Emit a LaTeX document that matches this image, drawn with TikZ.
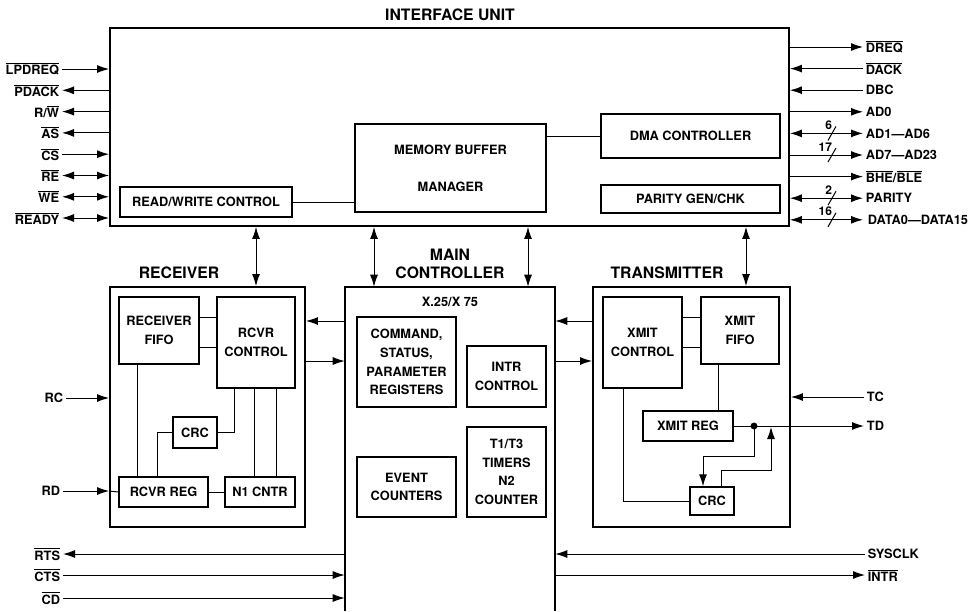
\documentclass[tikz,border=0pt]{standalone}
\usepackage{fontspec}
\setmainfont{TeX Gyre Heros}
\usetikzlibrary{arrows.meta,fit,calc}
\newcommand{\ovl}[1]{$\overline{\mbox{#1}}$}
\tikzset{
  outer/.style={draw, line width=1.4pt, inner sep=0pt},
  blk/.style={draw, line width=1.1pt, inner sep=0pt, align=center, font=\bfseries\fontsize{9.6}{14}\selectfont},
  ttl/.style={font=\bfseries\fontsize{11.8}{13.8}\selectfont, align=center, inner sep=1pt},
  sig/.style={font=\bfseries\fontsize{9.6}{11}\selectfont, inner sep=2pt},
  num/.style={font=\bfseries\fontsize{9}{10}\selectfont, inner sep=0.5pt},
  wire/.style={line width=0.75pt},
  ar/.style={wire, -{Latex[length=9pt,width=6pt]}},
  dar/.style={wire, {Latex[length=9pt,width=6pt]}-{Latex[length=9pt,width=6pt]}},
}
% box from (x1,y1) to (x2,y2) in pixel units
\newcommand{\bx}[6]{\node[blk, minimum width={(#4-#2)*0.75pt}, minimum height={(#5-#3)*0.75pt}] (#1) at ({(#2+#4)/2},{(#3+#5)/2}) {#6};}
\begin{document}
\begin{tikzpicture}[x=0.75pt,y=-0.75pt]
\useasboundingbox (0,0) rectangle (979,611);

% ---------------- Interface unit ----------------
\node[ttl] (iut) at (450,15) {INTERFACE UNIT};
\node[outer, fit={(110,28) (789,226)}] (iu) {};
\bx{rw}{120}{187}{292}{217}{READ/WRITE CONTROL}
\bx{mbm}{355}{124}{546}{212}{MEMORY BUFFER\\[14pt]MANAGER}
\bx{dma}{601}{114}{780}{158}{DMA CONTROLLER}
\bx{par}{601}{185}{780}{213}{PARITY GEN/CHK}
\draw[wire] (rw.east) -- (rw.east -| mbm.west);
\draw[wire] (dma.west) -- (dma.west -| mbm.east);

% left signals
\node[sig, anchor=east] (lpdreq) at (62,69) {\ovl{LPDREQ}};
\node[sig, anchor=east] (pdack) at (62,90.3) {\ovl{PDACK}};
\node[sig, anchor=east] (rwl) at (62,111.6) {R/\ovl{W}};
\node[sig, anchor=east] (as) at (62,132.9) {\ovl{AS}};
\node[sig, anchor=east] (cs) at (62,154.2) {\ovl{CS}};
\node[sig, anchor=east] (re) at (62,175.5) {\ovl{RE}};
\node[sig, anchor=east] (we) at (62,196.8) {\ovl{WE}};
\node[sig, anchor=east] (ready) at (62,218) {\ovl{READY}};
\draw[ar] (lpdreq.east) -- (lpdreq.east -| iu.west);
\draw[ar] (pdack.east -| iu.west) -- (pdack.east);
\draw[ar] (rwl.east -| iu.west) -- (rwl.east);
\draw[ar] (as.east -| iu.west) -- (as.east);
\draw[ar] (cs.east) -- (cs.east -| iu.west);
\draw[dar] (re.east) -- (re.east -| iu.west);
\draw[dar] (we.east) -- (we.east -| iu.west);
\draw[dar] (ready.east) -- (ready.east -| iu.west);

% right signals
\node[sig, anchor=west] (dreq) at (863,47) {\ovl{DREQ}};
\node[sig, anchor=west] (dack) at (863,68.6) {\ovl{DACK}};
\node[sig, anchor=west] (dbc) at (863,90.2) {DBC};
\node[sig, anchor=west] (ad0) at (863,111.8) {AD0};
\node[sig, anchor=west] (ad1) at (863,133.4) {AD1—AD6};
\node[sig, anchor=west] (ad7) at (863,155) {AD7—AD23};
\node[sig, anchor=west] (bhe) at (863,176.6) {\ovl{BHE}/\ovl{BLE}};
\node[sig, anchor=west] (parity) at (863,198.2) {PARITY};
\node[sig, anchor=west] (data) at (865,219.8) {DATA0—DATA15};
\draw[ar] (dreq.west -| iu.east) -- (dreq.west);
\draw[ar] (dack.west) -- (dack.west -| iu.east);
\draw[ar] (dbc.west) -- (dbc.west -| iu.east);
\draw[ar] (ad0.west -| iu.east) -- (ad0.west);
\draw[dar] (ad1.west -| iu.east) -- (ad1.west);
\draw[ar] (ad7.west -| iu.east) -- (ad7.west);
\draw[ar] (bhe.west -| iu.east) -- (bhe.west);
\draw[dar] (parity.west -| iu.east) -- (parity.west);
\draw[dar] (data.west -| iu.east) -- (data.west -| ad1.west);
% bus slashes
\coordinate (sx) at (832,0);
\foreach \s/\n in {ad1/6, ad7/17, parity/2, data/16}{
  \draw[wire] ($(sx |- \s.west)+(-4,7)$) -- ($(sx |- \s.west)+(4,-7)$);
  \node[num, anchor=south east] at ($(sx |- \s.west)+(1,-3)$) {\n};
}

% ---------------- Receiver ----------------
\node[ttl] (rxt) at (179,273) {RECEIVER};
\node[outer, fit={(110,287) (305,527)}] (rx) {};
\bx{rfifo}{119}{297}{199}{364}{RECEIVER\\FIFO}
\bx{rctl}{217}{297}{295}{388}{RCVR\\CONTROL}
\bx{rcrc}{173}{417}{217}{448}{CRC}
\bx{rreg}{119}{477}{208}{507}{RCVR REG}
\bx{n1}{225}{477}{295}{507}{N1 CNTR}
\draw[wire] (rfifo.east |- 0,317) -- (rctl.west |- 0,317);
\draw[wire] (rfifo.east |- 0,347) -- (rctl.west |- 0,347);
\draw[wire] (rfifo.south -| 137,0) -- (rreg.north -| 137,0);
\draw[wire] (rcrc.west) -| (rreg.north -| 157,0);
\draw[wire] (rcrc.east) -| (rctl.south -| 234,0);
\draw[wire] (rctl.south -| 254,0) -- (n1.north -| 254,0);
\draw[wire] (rctl.south -| 276,0) -- (n1.north -| 276,0);
\draw[wire] (rreg.east) -- (n1.west);
\node[sig, anchor=east] (rc) at (66,398) {RC};
\node[sig, anchor=east] (rd) at (63,491) {RD};
\draw[ar] (rc.east) -- (rc.east -| rx.west);
\draw[ar] (rd.east) -- (rd.east -| rx.west);
\draw[wire] (rd.east -| rx.west) -- (rreg.west);

% ---------------- Main controller ----------------
\node[ttl] (mct) at (450,264) {MAIN\\CONTROLLER};
\node[inner sep=0pt, fit={(345,287) (555,611)}] (mc) {};
\draw[line width=1.4pt] (mc.south west) -- (mc.north west) -- (mc.north east) -- (mc.south east);
\node[blk, draw=none] (x25) at (450,302) {X.25/X 75};
\bx{cmd}{357}{317}{456}{407}{COMMAND,\\STATUS,\\PARAMETER\\REGISTERS}
\bx{intr}{467}{346}{546}{407}{INTR\\CONTROL}
\bx{evt}{357}{457}{456}{517}{EVENT\\COUNTERS}
\bx{tmr}{467}{427}{546}{517}{T1/T3\\TIMERS\\N2\\COUNTER}

% ---------------- Transmitter ----------------
\node[ttl] (txt) at (667,273) {TRANSMITTER};
\node[outer, fit={(593,287) (790,527)}] (tx) {};
\bx{xctl}{603}{297}{682}{388}{XMIT\\CONTROL}
\bx{xfifo}{701}{297}{779}{364}{XMIT\\FIFO}
\bx{xreg}{643}{411}{733}{441}{XMIT REG}
\bx{xcrc}{690}{487}{734}{515}{CRC}
\draw[wire] (xctl.east |- 0,317) -- (xfifo.west |- 0,317);
\draw[wire] (xctl.east |- 0,347) -- (xfifo.west |- 0,347);
\draw[wire] (xfifo.south -| 718,0) -- (xreg.north -| 718,0);
\draw[wire] (xctl.south -| 623,0) |- (xcrc.west);
\node[sig, anchor=west] (tc) at (864,397) {TC};
\node[sig, anchor=west] (td) at (864,426) {TD};
\draw[ar] (tc.west) -- (tc.west -| tx.east);
\draw[ar] (xreg.east) -- (td.west);
\coordinate (dot) at (754,426);
\fill (dot) circle[radius=2.6pt];
\draw[ar] (dot) -- (dot |- 0,456) -| (xcrc.north -| 703,0);
\coordinate (fb) at (771,470);
\draw[ar] (xcrc.north -| 721,0) |- (fb) -- ($(xreg.east -| fb)+(0,1)$);

% ---------------- Inter-block arrows ----------------
\foreach \xx/\tgt in {256/rx, 374/mc, 528/mc, 746/tx}{
  \coordinate (v) at (\xx,0);
  \draw[dar] (v |- iu.south) -- (v |- \tgt.north);
}
\draw[ar] (mc.west |- 0,321) -- (rx.east |- 0,321);
\draw[ar] (rx.east |- 0,361) -- (mc.west |- 0,361);
\draw[ar] (tx.west |- 0,321) -- (mc.east |- 0,321);
\draw[ar] (mc.east |- 0,361) -- (tx.west |- 0,361);

% ---------------- Bottom signals ----------------
\node[sig, anchor=east] (rts) at (63,554) {\ovl{RTS}};
\node[sig, anchor=east] (cts) at (63,575) {\ovl{CTS}};
\node[sig, anchor=east] (cd) at (63,598) {\ovl{CD}};
\node[sig, anchor=west] (sysclk) at (865,554) {SYSCLK};
\node[sig, anchor=west] (intrs) at (865,575) {\ovl{INTR}};
\draw[ar] (rts.east -| mc.west) -- (rts.east);
\draw[ar] (cts.east) -- (cts.east -| mc.west);
\draw[ar] (cd.east) -- (cd.east -| mc.west);
\draw[ar] (sysclk.west) -- (sysclk.west -| mc.east);
\draw[ar] (intrs.west -| mc.east) -- (intrs.west);
\end{tikzpicture}
\end{document}
